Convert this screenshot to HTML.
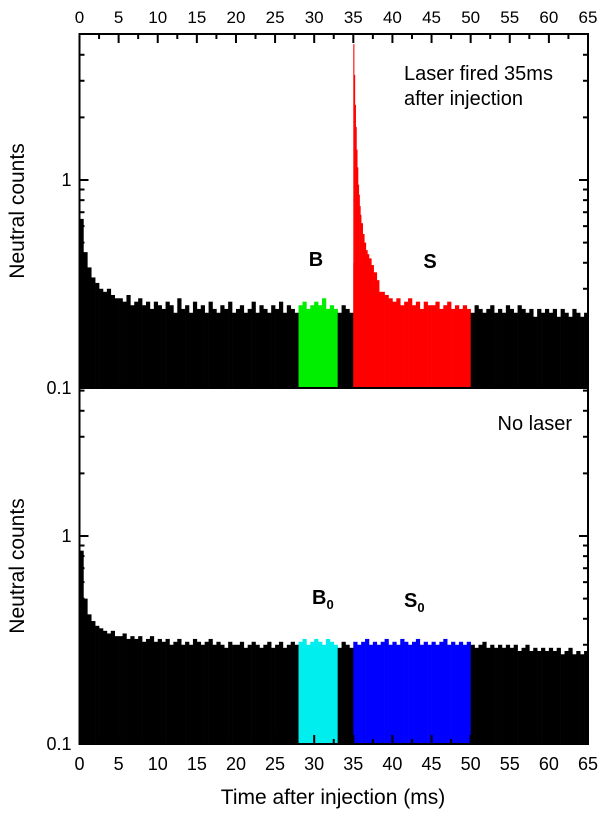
<!DOCTYPE html>
<html><head><meta charset="utf-8"><style>
body{margin:0;background:#fff}
svg text{font-family:"Liberation Sans",Arial,sans-serif}
</style></head><body>
<svg id="c" width="600" height="814" viewBox="0 0 600 814" xmlns="http://www.w3.org/2000/svg"></svg>
<script>
// ---- data ----
const binWidth = 0.5; // ms
const topCounts = [
0.65,0.45,0.38,0.34,0.32,0.30,0.29,0.30,0.28,0.27,
0.27,0.26,0.28,0.25,0.26,0.27,0.25,0.26,0.24,0.26,
0.25,0.24,0.26,0.25,0.23,0.27,0.24,0.25,0.23,0.26,
0.24,0.25,0.23,0.26,0.24,0.23,0.25,0.24,0.26,0.23,
0.24,0.25,0.23,0.24,0.26,0.23,0.25,0.24,0.23,0.25,
0.24,0.26,0.23,0.25,0.24,0.23,0.25,0.26,0.24,0.25,
0.26,0.25,0.27,0.24,0.25,0.24,0.23,0.25,0.24,0.23,
0.40,0.38,0.36,0.33,0.31,0.30,0.29,0.29,0.28,0.27,
0.26,0.27,0.25,0.26,0.27,0.25,0.26,0.24,0.26,0.25,
0.25,0.26,0.24,0.25,0.26,0.24,0.25,0.24,0.25,0.24,
0.23,0.25,0.24,0.23,0.24,0.25,0.23,0.24,0.23,0.25,
0.24,0.23,0.25,0.24,0.23,0.24,0.22,0.24,0.23,0.24,
0.23,0.24,0.22,0.24,0.23,0.22,0.24,0.23,0.22,0.23];
const peakTimes = [35.0,35.1,35.2,35.3,35.4,35.5,35.6,35.7,35.8,35.9,36.0,36.2,36.4,36.6,36.8,37.0,37.3,37.6,38.0];
const peakCounts = [4.5,3.2,2.3,1.8,1.4,1.15,0.95,0.85,0.75,0.68,0.62,0.55,0.5,0.46,0.44,0.42,0.39,0.36,0.33];
const bottomCounts = [
0.85,0.50,0.42,0.39,0.37,0.36,0.35,0.34,0.35,0.33,
0.33,0.34,0.32,0.33,0.32,0.33,0.31,0.32,0.33,0.31,
0.32,0.31,0.32,0.30,0.31,0.32,0.30,0.31,0.30,0.32,
0.31,0.30,0.31,0.32,0.30,0.31,0.30,0.29,0.31,0.30,
0.30,0.31,0.29,0.30,0.31,0.30,0.29,0.30,0.31,0.29,
0.30,0.31,0.29,0.30,0.31,0.30,0.31,0.32,0.30,0.31,
0.32,0.31,0.30,0.32,0.31,0.30,0.29,0.31,0.30,0.29,
0.31,0.30,0.31,0.32,0.30,0.31,0.30,0.31,0.32,0.30,
0.31,0.30,0.32,0.31,0.30,0.31,0.32,0.30,0.31,0.30,
0.31,0.30,0.31,0.32,0.30,0.31,0.30,0.31,0.30,0.31,
0.30,0.29,0.30,0.31,0.29,0.30,0.29,0.30,0.29,0.30,
0.29,0.30,0.28,0.29,0.30,0.28,0.29,0.28,0.29,0.28,
0.29,0.28,0.29,0.27,0.28,0.29,0.27,0.28,0.27,0.28];
const xTicks = [0,5,10,15,20,25,30,35,40,45,50,55,60,65];
const yMajor = [0.1,1];
const yMinor = [0.2,0.3,0.4,0.5,0.6,0.7,0.8,0.9,2,3,4,5];
const bWindow = [28,33];
const sWindow = [35,50];

// ---- layout ----
const X0=79.5, X1=588, XMAX=65;
const panels=[{top:34,bot:388,counts:topCounts,bCol:'#00ee00',sCol:'#ff0000',name:'top'},
              {top:388,bot:744,counts:bottomCounts,bCol:'#00eeee',sCol:'#0000ff',name:'bottom'}];
const DEC=208;
const xs=t=>X0+(X1-X0)*t/XMAX;
const ys=(p,v)=>p.bot-DEC*Math.log10(v/0.1);
const svg=document.getElementById('c');
const NS='http://www.w3.org/2000/svg';
function el(tag,attrs,parent){const e=document.createElementNS(NS,tag);for(const k in attrs)e.setAttribute(k,attrs[k]);(parent||svg).appendChild(e);return e;}
function colorFor(p,t){if(t>=bWindow[0]&&t<bWindow[1])return p.bCol;if(t>=sWindow[0]&&t<sWindow[1])return p.sCol;return '#000';}

panels.forEach((p,pi)=>{
  const g=el('g',{});
  
  
  p.counts.forEach((v,i)=>{
    const t=i*binWidth;
    const r=el('rect',{x:xs(t),y:ys(p,v),width:xs(t+binWidth)-xs(t)+0.3,height:p.bot-ys(p,v),fill:colorFor(p,t)},g);
    
    
  });
  if(pi===0){
    peakTimes.forEach((t,i)=>{
      const t2=i+1<peakTimes.length?peakTimes[i+1]:t+0.3;
      const r=el('rect',{x:xs(t),y:ys(p,peakCounts[i]),width:xs(t2)-xs(t)+0.3,height:p.bot-ys(p,peakCounts[i]),fill:p.sCol},g);
      
      
    });
  }
  const f=el('rect',{x:X0,y:p.top,width:X1-X0,height:p.bot-p.top,fill:'none',stroke:'#000','stroke-width':2});
  
  
  yMajor.forEach(v=>{const y=ys(p,v);
    el('line',{x1:X0,x2:X0+9,y1:y,y2:y,stroke:'#000','stroke-width':2});
    el('line',{x1:X1,x2:X1-9,y1:y,y2:y,stroke:'#000','stroke-width':2});
    const tx=el('text',{x:X0-8,y:y+6,'text-anchor':'end','font-size':18},svg);tx.textContent=String(v);
    
    
  });
  yMinor.forEach(v=>{const y=ys(p,v); if(y<p.top+1)return;
    el('line',{x1:X0,x2:X0+5,y1:y,y2:y,stroke:'#000','stroke-width':2});
    el('line',{x1:X1,x2:X1-5,y1:y,y2:y,stroke:'#000','stroke-width':2});
  });
  const yl=el('text',{x:0,y:0,transform:`translate(24,${(p.top+p.bot)/2}) rotate(-90)`,'text-anchor':'middle','font-size':21});
  yl.textContent='Neutral counts';
  
  
});
for(let t=0;t<=XMAX;t+=2.5){
  const major=t%5===0, x=xs(t), L=major?9:5;
  el('line',{x1:x,x2:x,y1:34,y2:34+L,stroke:'#000','stroke-width':2});
  el('line',{x1:x,x2:x,y1:744,y2:744-L,stroke:'#000','stroke-width':2});
}
xTicks.forEach(t=>{
  const a=el('text',{x:xs(t),y:23,'text-anchor':'middle','font-size':17});a.textContent=t;
  
  
  const b=el('text',{x:xs(t),y:770,'text-anchor':'middle','font-size':18});b.textContent=t;
  
  
});
function txt(s,x,y,size,attrs,name){const e=el('text',Object.assign({x:x,y:y,'font-size':size},attrs||{}));e.innerHTML=s;
  
  return e;}
txt('Time after injection (ms)',333,804,21,{'text-anchor':'middle'},'x-axis-title');
txt('Laser fired 35ms',404,80,20,{},'annotation-laser-line1');
txt('after injection',404,105,20,{},'annotation-laser-line2');
txt('No laser',572,430,20,{'text-anchor':'end'},'annotation-no-laser');
txt('B',316,266,20,{'text-anchor':'middle','font-weight':'bold'},'label-b');
txt('S',430,268,20,{'text-anchor':'middle','font-weight':'bold'},'label-s');
txt('B<tspan font-size="13" dy="5">0</tspan>',312,604,20,{'font-weight':'bold'},'label-b0');
txt('S<tspan font-size="13" dy="5">0</tspan>',404,607,20,{'font-weight':'bold'},'label-s0');
</script>
</body></html>
